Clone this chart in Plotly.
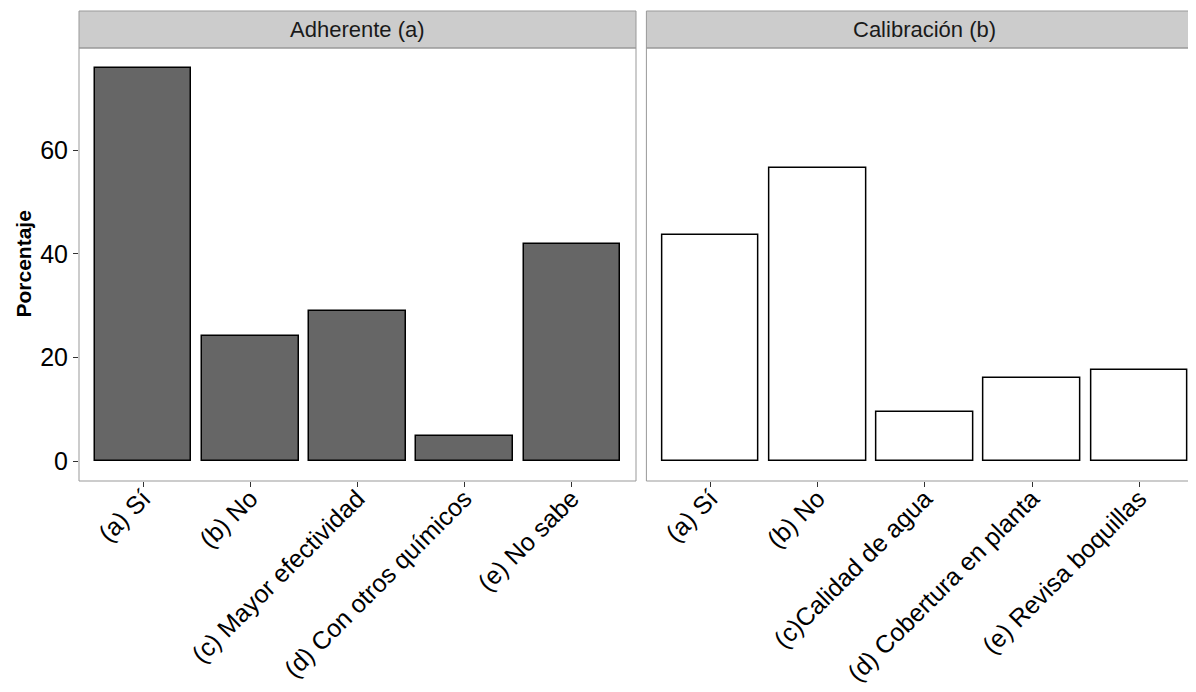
import plotly.graph_objects as go

# ---- data ----
panel_titles = ["Adherente (a)", "Calibración (b)"]
cats_a = ["(a) Sí", "(b) No", "(c) Mayor efectividad", "(d) Con otros químicos", "(e) No sabe"]
vals_a = [75.9, 24.1, 29.0, 4.8, 42.0]
cats_b = ["(a) Sí", "(b) No", "(c)Calidad de agua", "(d) Cobertura en planta", "(e) Revisa boquillas"]
vals_b = [43.6, 56.5, 9.5, 16.1, 17.7]
y_ticks = [0, 20, 40, 60]
y_label = "Porcentaje"

# the page body has an 8px default margin; compensate
OFF = 8
W, H = 1196 - OFF, 692 - OFF
ML, MR, MT, MB = 79 - OFF, 0, 11 - OFF, 211
plot_w = W - ML - MR
plot_h = H - MT - MB
panel_px = 557
left_dom = [0, panel_px / plot_w]
right_left_px = 646.4 - 79
right_dom = [right_left_px / plot_w, 1]
right_visible_px = plot_w - right_left_px
unit_px = panel_px / 5.2
panel_top = 433 / plot_h

FONT = "Liberation Sans, Arial, sans-serif"
BORDER = "#999999"

fig = go.Figure()
fig.add_trace(go.Bar(x=cats_a, y=vals_a, width=0.9, marker=dict(color="#666666", line=dict(color="black", width=1.5)),
                     xaxis="x", yaxis="y", showlegend=False))
fig.add_trace(go.Bar(x=cats_b, y=vals_b, width=0.9, marker=dict(color="white", line=dict(color="black", width=1.5)),
                     xaxis="x2", yaxis="y2", showlegend=False))

xtickfont = dict(family=FONT, size=25, color="black")
ytickfont = dict(family=FONT, size=25, color="black")
common_x = dict(type="category", showgrid=False, zeroline=False, showline=False,
                ticks="outside", ticklen=5, tickcolor="#333333", tickwidth=1,
                tickangle=-45, tickfont=xtickfont, automargin=False, ticklabelstandoff=-13)
fig.update_layout(
    width=W, height=H,
    margin=dict(l=ML, r=MR, t=MT, b=MB, autoexpand=False),
    paper_bgcolor="white", plot_bgcolor="white",
    bargap=0,
    xaxis=dict(domain=left_dom, range=[-0.6, 4.6], anchor="y", **common_x),
    xaxis2=dict(domain=right_dom, range=[-0.6, -0.6 + right_visible_px / unit_px], anchor="y2", **common_x),
    yaxis=dict(domain=[0, panel_top], range=[-3.8, 79.7], tickvals=y_ticks, showgrid=False, zeroline=False,
               showline=False, ticks="outside", ticklen=5, tickcolor="#333333", tickfont=ytickfont, anchor="x",
               automargin=False),
    yaxis2=dict(domain=[0, panel_top], range=[-3.8, 79.7], showgrid=False, zeroline=False, showline=False,
                showticklabels=False, ticks="", anchor="x2", matches="y"),
)

shapes = []
# panel borders
shapes.append(dict(type="rect", xref="x domain", yref="y domain", x0=0, x1=1, y0=0, y1=1,
                   line=dict(color=BORDER, width=1), fillcolor="rgba(0,0,0,0)", layer="above"))
shapes.append(dict(type="rect", xref="x2 domain", yref="y2 domain", x0=0, x1=1.05, y0=0, y1=1,
                   line=dict(color=BORDER, width=1), fillcolor="rgba(0,0,0,0)", layer="above"))
# strips
shapes.append(dict(type="rect", xref="x domain", yref="paper", x0=0, x1=1, y0=panel_top, y1=1,
                   line=dict(color=BORDER, width=1), fillcolor="#CCCCCC", layer="below"))
shapes.append(dict(type="rect", xref="x2 domain", yref="paper", x0=0, x1=1.05, y0=panel_top, y1=1,
                   line=dict(color=BORDER, width=1), fillcolor="#CCCCCC", layer="below"))
fig.update_layout(shapes=shapes)

strip_font = dict(family=FONT, size=22, color="#1a1a1a")
fig.add_annotation(xref="x domain", yref="paper", x=0.5, y=(panel_top + 1) / 2, text=panel_titles[0],
                   showarrow=False, font=strip_font, xanchor="center", yanchor="middle")
fig.add_annotation(xref="x2 domain", yref="paper", x=(panel_px / 2) / right_visible_px, y=(panel_top + 1) / 2,
                   text=panel_titles[1], showarrow=False, font=strip_font, xanchor="center", yanchor="middle")
fig.add_annotation(xref="paper", yref="paper", x=(23 - 79) / plot_w, y=panel_top / 2, text="<b>%s</b>" % y_label,
                   textangle=-90, showarrow=False, font=dict(family=FONT, size=21, color="black"),
                   xanchor="center", yanchor="middle")

fig.write_html("out.html")
